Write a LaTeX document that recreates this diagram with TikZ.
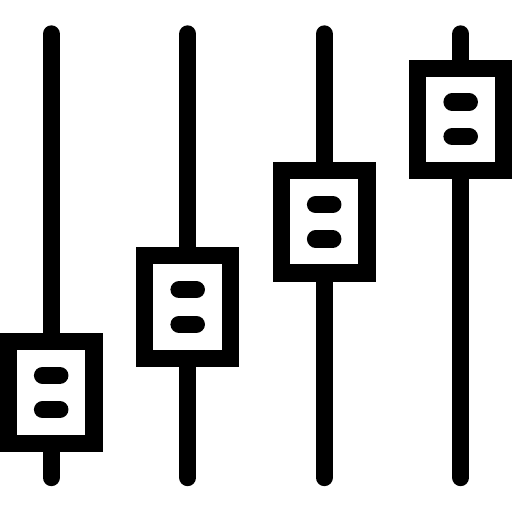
\documentclass[tikz,border=0pt]{standalone}
\tikzset{
  rail/.style={line width=13pt,line cap=round,black},
  frame/.style={draw=black,fill=white,line width=12.9pt,minimum width=64.3pt,minimum height=76.7pt,inner sep=0pt,outer sep=0pt},
  grip/.style={line width=13pt,line cap=round,black}
}
\begin{document}
\begin{tikzpicture}[x=0.75pt,y=-0.75pt]
\useasboundingbox (0,0) rectangle (512,512);
\foreach \n/\x/\cy in {a/51.2/392.5,b/187.7/307,c/324.2/221.8,d/460.7/119.3}{
  \coordinate (t\n) at (\x,34);
  \coordinate (e\n) at (\x,477.5);
  \draw[rail] (t\n) -- (e\n);
  \node[frame] (f\n) at (\x,\cy) {};
  \coordinate (l1\n) at (\x-8.6,\cy-17.2);
  \coordinate (r1\n) at (\x+8.6,\cy-17.2);
  \coordinate (l2\n) at (\x-8.6,\cy+17.2);
  \coordinate (r2\n) at (\x+8.6,\cy+17.2);
  \draw[grip] (l1\n) -- (r1\n);
  \draw[grip] (l2\n) -- (r2\n);
}
\end{tikzpicture}
\end{document}
